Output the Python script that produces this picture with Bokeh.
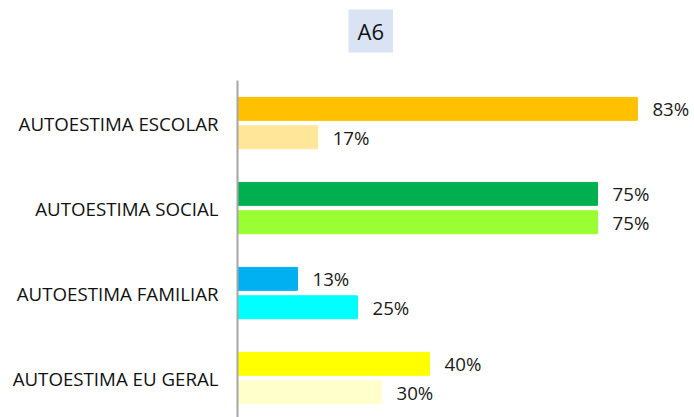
import math
from bokeh.plotting import figure
from bokeh.models import ColumnDataSource, FixedTicker, Range1d, LabelSet, Title
from bokeh.transform import dodge
from bokeh.core.properties import value
from bokeh.embed import file_html
from bokeh.resources import INLINE

# ---- data ----
categories = ["AUTOESTIMA ESCOLAR", "AUTOESTIMA SOCIAL", "AUTOESTIMA FAMILIAR", "AUTOESTIMA EU GERAL"]
serie1 = [83.3, 75.0, 12.5, 40.0]
serie2 = [16.7, 75.0, 25.0, 30.0]
colors1 = ["#FFC000", "#00B050", "#00B0F0", "#FFFF00"]
colors2 = ["#FFE699", "#99FF33", "#00FFFF", "#FFFFCC"]
title_text = "A6"

FONT = "Open Sans"
FSIZE = "18.7px"
ypos = list(range(len(categories) - 1, -1, -1))

def pct(v):
    return f"{int(math.floor(v + 0.5))}%"

src1 = ColumnDataSource(dict(y=ypos, v=serie1, c=colors1, lab=[pct(v) for v in serie1]))
src2 = ColumnDataSource(dict(y=ypos, v=serie2, c=colors2, lab=[pct(v) for v in serie2]))

W, H = 694, 417
LEFT, TOP = 237, 80
p = figure(width=W, height=H, output_backend="svg", toolbar_location=None, title=None,
           x_range=Range1d(0, 95.2), y_range=Range1d(-0.464, 3.501),
           min_border_left=LEFT, min_border_right=0, min_border_bottom=0, min_border_top=TOP)
p.outline_line_color = None
p.xgrid.visible = False
p.ygrid.visible = False
p.xaxis.visible = False

bh = 0.27
off = 0.167
p.hbar(y=dodge("y", off), right="v", left=0, height=bh, color="c", source=src1)
p.hbar(y=dodge("y", -off), right="v", left=0, height=bh, color="c", source=src2)

for src, o in ((src1, off), (src2, -off)):
    p.add_layout(LabelSet(x="v", y=dodge("y", o), text="lab", source=src, x_offset=15,
                          text_align="left", text_baseline="middle",
                          text_font=value(FONT), text_font_size=FSIZE, text_color="#1a1a1a"))

ax = p.yaxis[0]
ax.ticker = FixedTicker(ticks=ypos)
ax.major_label_overrides = {y: c for y, c in zip(ypos, categories)}
ax.major_tick_line_color = None
ax.minor_tick_line_color = None
ax.major_tick_out = 0
ax.major_tick_in = 0
ax.major_label_standoff = 19
ax.axis_line_color = "#A6A6A6"
ax.axis_line_width = 2
ax.major_label_text_font = FONT
ax.major_label_text_font_size = FSIZE
ax.major_label_text_color = "#111111"

# spacer between the frame and the title box
p.add_layout(Title(text=" ", text_font_size="1px", standoff=25), "above")
p.add_layout(Title(text=title_text, align="left", offset=111, vertical_align="bottom",
                   standoff=0, text_font=FONT, text_font_size="22px",
                   text_font_style="normal", text_color="#111111",
                   background_fill_color="#DAE3F3",
                   padding=dict(left=9, right=9, top=6, bottom=7)), "above")

open("out.html", "w").write(file_html(p, INLINE))
